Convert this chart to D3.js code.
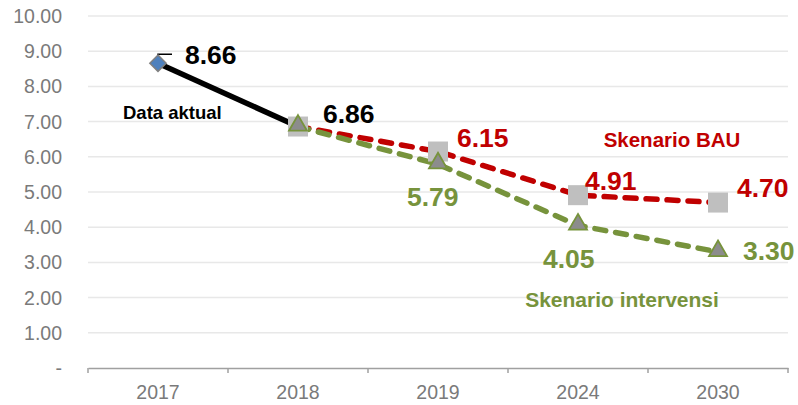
<!DOCTYPE html>
<html>
<head>
<meta charset="utf-8">
<script src="https://cdn.jsdelivr.net/npm/d3@7"></script>
<style>
  body { margin: 0; background: #fff; }
  text { font-family: Arial, "Liberation Sans", sans-serif; }
</style>
</head>
<body>
<svg id="svg" width="798" height="405"></svg>
<script>
// data
var years = ["2017", "2018", "2019", "2024", "2030"];
var aktual = [8.66, 6.86, null, null, null];
var bau = [null, 6.86, 6.15, 4.91, 4.70];
var intervensi = [null, 6.86, 5.79, 4.05, 3.30];
var yTicks = [0, 1, 2, 3, 4, 5, 6, 7, 8, 9, 10];

var red = "#c00000", green = "#77933c";

var svg = d3.select("#svg");

var x = d3.scaleBand().domain(years).range([88, 788]);
var y = d3.scaleLinear().domain([0, 10]).range([368, 16]);
var cx = function(yr) { return x(yr) + x.bandwidth() / 2; };

// gridlines
svg.append("g").selectAll("line").data(yTicks.slice(1)).join("line")
  .attr("x1", 88).attr("x2", 788)
  .attr("y1", function(d) { return y(d); }).attr("y2", function(d) { return y(d); })
  .attr("stroke", "#e8e8e8").attr("stroke-width", 1.5);

// y labels
svg.append("g").selectAll("text").data(yTicks).join("text")
  .attr("x", 62).attr("y", function(d) { return y(d) + 7; })
  .attr("text-anchor", "end")
  .attr("font-size", "19.5px").attr("fill", "#7a7a7a")
  .text(function(d) { return d === 0 ? "-" : d3.format(".2f")(d); });

// x axis
var xAxis = d3.axisBottom(x).tickSize(0).tickPadding(17);
var gx = svg.append("g").attr("transform", "translate(0,368)").call(xAxis);
gx.select(".domain").attr("stroke", "#a0a0a0").attr("stroke-width", 1.5);
gx.selectAll("text").attr("font-size", "19.5px").attr("fill", "#7a7a7a")
  .attr("font-family", "Arial, 'Liberation Sans', sans-serif");
// boundary ticks
gx.selectAll(".bt").data(years.concat(["end"])).join("line").attr("class", "bt")
  .attr("x1", function(d, i) { return 88 + i * x.bandwidth(); })
  .attr("x2", function(d, i) { return 88 + i * x.bandwidth(); })
  .attr("y1", 0).attr("y2", 5)
  .attr("stroke", "#a0a0a0").attr("stroke-width", 1.5);

function pts(vals) {
  return years.map(function(yr, i) { return { yr: yr, v: vals[i] }; })
    .filter(function(d) { return d.v != null; });
}

var line = d3.line()
  .x(function(d) { return cx(d.yr); })
  .y(function(d) { return y(d.v); });

// lines
svg.append("path").datum(pts(aktual)).attr("d", line)
  .attr("fill", "none").attr("stroke", "#000").attr("stroke-width", 5.5);
svg.append("path").datum(pts(bau)).attr("d", line)
  .attr("fill", "none").attr("stroke", red).attr("stroke-width", 5.5)
  .attr("stroke-dasharray", "11,10").attr("stroke-linecap", "round");
svg.append("path").datum(pts(intervensi)).attr("d", line)
  .attr("fill", "none").attr("stroke", green).attr("stroke-width", 5.5)
  .attr("stroke-dasharray", "11,10").attr("stroke-linecap", "round");

// leader line for 8.66
var p0 = pts(aktual)[0];
svg.append("polyline")
  .attr("points", [[cx(p0.yr), y(p0.v) - 1], [cx(p0.yr), y(p0.v) - 9], [cx(p0.yr) + 14, y(p0.v) - 9]].join(" "))
  .attr("fill", "none").attr("stroke", "#000").attr("stroke-width", 1.5);

// markers
svg.append("g").selectAll("path").data(pts(aktual).slice(0, 1)).join("path")
  .attr("d", d3.symbol(d3.symbolDiamond2, 170))
  .attr("transform", function(d) { return "translate(" + cx(d.yr) + "," + y(d.v) + ")"; })
  .attr("fill", "#4f81bd").attr("stroke", "#7f7f7f").attr("stroke-width", 1.5);

svg.append("g").selectAll("rect").data(pts(bau)).join("rect")
  .attr("x", function(d) { return cx(d.yr) - 10; })
  .attr("y", function(d) { return y(d.v) - 10; })
  .attr("width", 20).attr("height", 20)
  .attr("fill", "#bfbfbf");

svg.append("g").selectAll("path").data(pts(intervensi)).join("path")
  .attr("d", d3.symbol(d3.symbolTriangle, 140))
  .attr("transform", function(d) { return "translate(" + cx(d.yr) + "," + (y(d.v) - 1) + ")"; })
  .attr("fill", "#8c8c8c").attr("stroke", green).attr("stroke-width", 1.8);

// data labels (offsets from each point)
var fmt = d3.format(".2f");
var aktualOff = [[27, 1], [25, -4]];
var bauOff = [null, [19, -4.5], [7, -5], [19, -6]];
var intOff = [null, [-31, 42], [-35, 43], [25, 8]];

function labels(data, offs, color) {
  svg.append("g").selectAll("text").data(data).join("text")
    .filter(function(d, i) { return offs[i] != null; })
    .attr("x", function(d) { return cx(d.yr) + offs[data.indexOf(d)][0]; })
    .attr("y", function(d) { return y(d.v) + offs[data.indexOf(d)][1]; })
    .attr("font-size", "26.5px").attr("font-weight", "bold").attr("fill", color)
    .text(function(d) { return fmt(d.v); });
}
labels(pts(aktual), aktualOff, "#000");
labels(pts(bau), bauOff, red);
labels(pts(intervensi), intOff, green);

// series annotations
svg.append("text").attr("x", 123).attr("y", 119)
  .attr("font-size", "18.5px").attr("font-weight", "bold").attr("fill", "#000")
  .text("Data aktual");
svg.append("text").attr("x", 672).attr("y", 147).attr("text-anchor", "middle")
  .attr("font-size", "20.5px").attr("font-weight", "bold").attr("fill", red)
  .text("Skenario BAU");
svg.append("text").attr("x", 622).attr("y", 307).attr("text-anchor", "middle")
  .attr("font-size", "21px").attr("font-weight", "bold").attr("fill", green)
  .text("Skenario intervensi");
</script>
</body>
</html>
